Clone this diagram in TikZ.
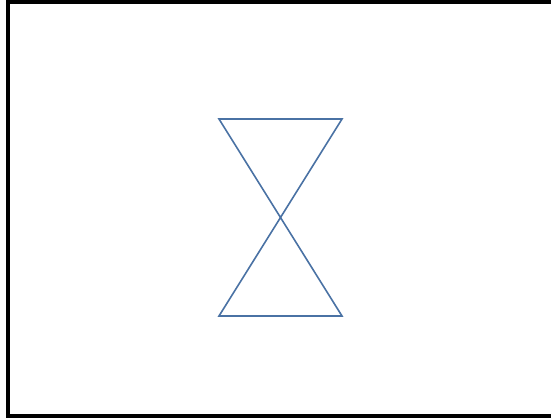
\documentclass[tikz,border=0pt]{standalone}
\usepackage{tikz}
\definecolor{glass}{HTML}{4A72A4}
\begin{document}
\begin{tikzpicture}[x=0.75pt, y=-0.75pt]
        \clip (0,0) rectangle (551,419);
        \draw[black, line width=2.4pt] (8,2) rectangle (570,416);
        \coordinate (tl) at (219,119);
        \coordinate (tr) at (342,119);
        \coordinate (bl) at (219,316);
        \coordinate (br) at (342,316);
        \draw[glass, line width=1.2pt, line join=miter] (tl) -- (tr) -- (bl) -- (br) -- cycle;
      \end{tikzpicture}
\end{document}
